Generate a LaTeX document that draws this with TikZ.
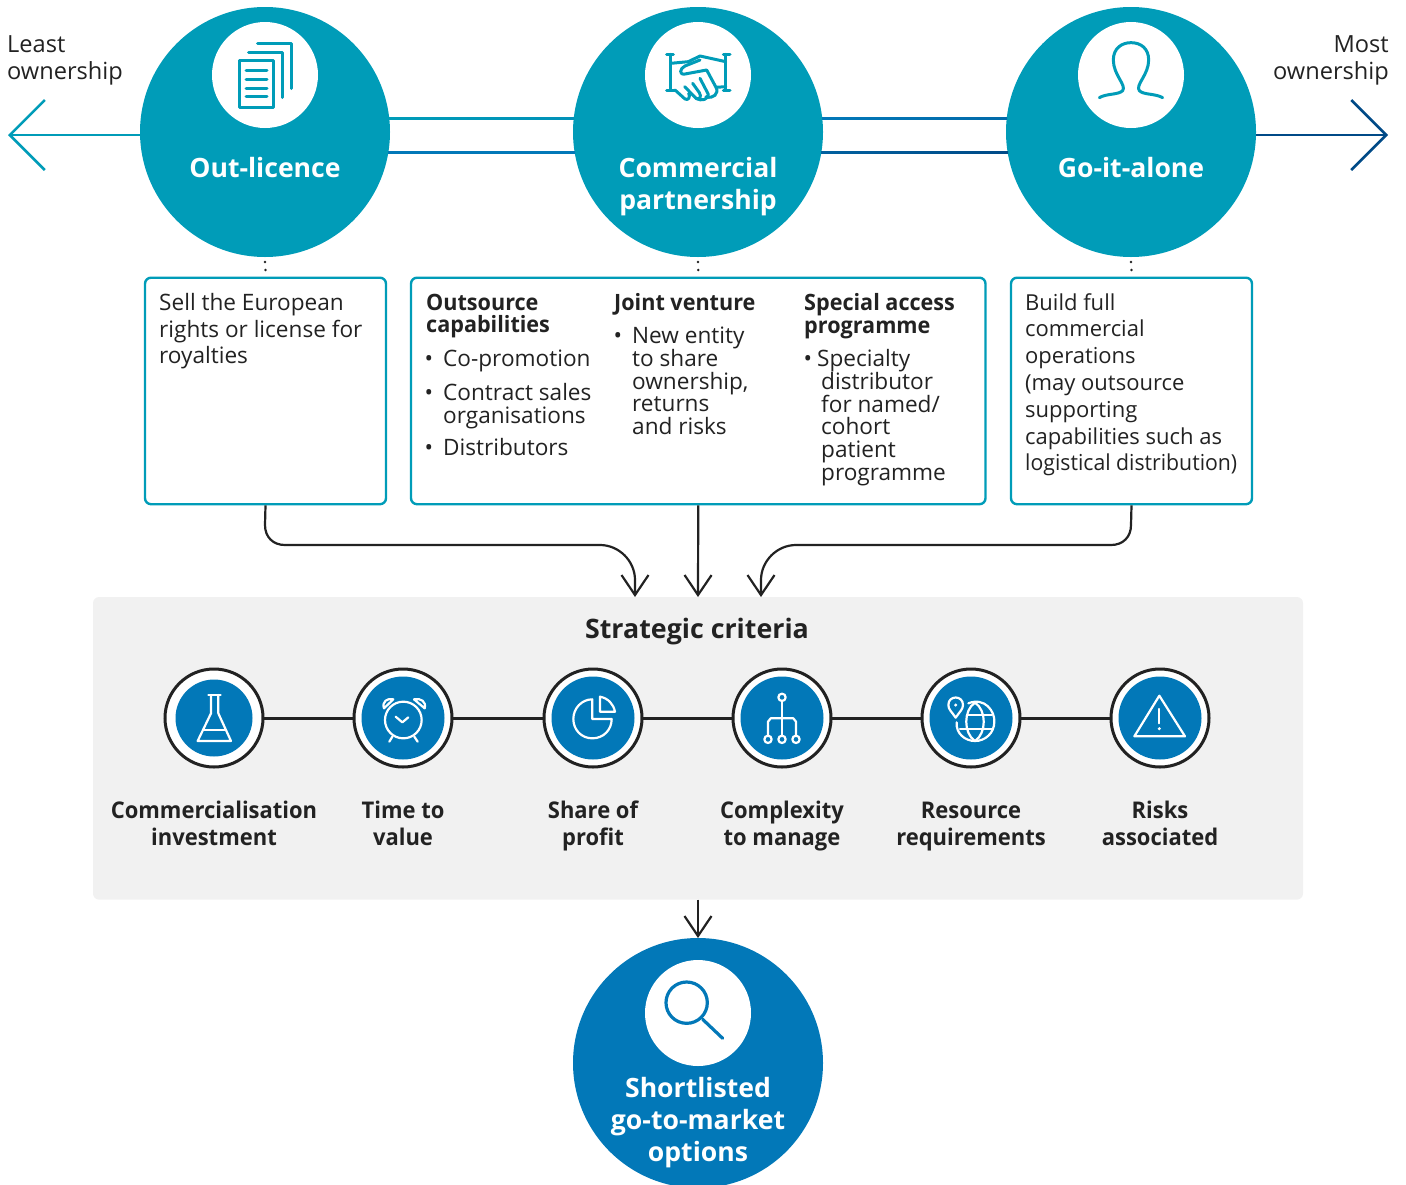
\documentclass[tikz,border=0pt]{standalone}
\usepackage{fontspec}
\setmainfont{Open Sans}
\newfontfamily\semi[FakeStretch=0.955]{Open Sans}
\newfontfamily\semih[FakeStretch=0.96]{Open Sans}
\usetikzlibrary{arrows.meta,calc}
\definecolor{teal}{HTML}{009CB8}
\definecolor{blu}{HTML}{0278B8}
\definecolor{navy}{HTML}{004A87}
\definecolor{ink}{HTML}{222222}
\definecolor{panel}{HTML}{F1F1F1}
\newcommand{\fs}[2]{\fontsize{#1}{#2}\selectfont}
\newcommand{\topst}{\rule{0pt}{20pt}}
\newcommand{\botst}{\rule[-6pt]{0pt}{6pt}}
\tikzset{
 x=1pt,y=-1pt,
 bigc/.style={circle,fill=#1,minimum size=250pt,inner sep=0pt,outer sep=0pt},
 whc/.style={circle,fill=white,minimum size=106pt,inner sep=0pt},
 bigt/.style={white,font=\bfseries\fs{26.6}{32},align=center,inner sep=0pt,anchor=center},
 infobox/.style={draw=teal,line width=2.4pt,rounded corners=6pt,fill=white,inner sep=0pt,anchor=north west},
 bodyt/.style={text=ink,font=\fs{22.6}{26.8},align=left,inner sep=0pt,anchor=north west},
 tight/.style={text=ink,font=\fs{22.6}{22.7},align=left,inner sep=0pt,anchor=north west},
 headt/.style={text=ink,font=\semih\bfseries\fs{22.5}{22.7},align=left,inner sep=0pt,anchor=north west},
 conn/.style={draw=ink,line width=2.2pt,-{Straight Barb[length=20pt,width=27pt,line width=2.2pt]}},
 dots/.style={draw=ink,line width=2.6pt,line cap=round,dash pattern=on 0pt off 8pt},
 critc/.style={circle,draw=ink,line width=3pt,fill=white,minimum size=98pt,inner sep=0pt,outer sep=0pt},
 critin/.style={circle,fill=blu,minimum size=#1,inner sep=0pt},
 critt/.style={text=ink,font=\semi\bfseries\fs{23}{27},align=center,inner sep=0pt},
 ictl/.style={draw=teal,line width=3pt,line cap=round,line join=round},
 icbl/.style={draw=blu,line width=3.2pt,line cap=round,line join=round},
 icw/.style={draw=white,line width=2.2pt,line cap=round,line join=round},
}
\begin{document}
\begin{tikzpicture}
\useasboundingbox (0,0) rectangle (1406,1184);
\clip (0,0) rectangle (1406,1184);
% panel
\node[fill=panel,rounded corners=6pt,minimum width=1210pt,minimum height=302.6pt,inner sep=0pt,outer sep=0pt] (crit) at (698,748.3) {};
% main circles
\node[bigc=teal] (ol) at (265,132) {};
\node[bigc=teal] (cp) at (698,132) {};
\node[bigc=teal] (ga) at (1131,132) {};
% horizontal connectors
\shade[left color=teal,right color=teal!70!blu] ($(ol.center)+(124,-15)$) rectangle ($(cp.center)+(-124,-12.4)$);
\shade[left color=blu,right color=blu] ($(ol.center)+(123,19)$) rectangle ($(cp.center)+(-123,21.6)$);
\shade[left color=blu,right color=blu!70!navy] ($(cp.center)+(124,-15)$) rectangle ($(ga.center)+(-124,-12.4)$);
\shade[left color=blu!50!navy,right color=navy] ($(cp.center)+(123,19)$) rectangle ($(ga.center)+(-123,21.6)$);
\node[whc] (olw) at (265,75) {};
\node[whc] (cpw) at (698,75) {};
\node[whc] (gaw) at (1131,75) {};
\node[bigt] (olt) at (265,167.5) {Out-licence};
\node[bigt] (cpt) at (698,187) {Commercial\\partnership};
\node[bigt] (gat) at (1131,167.5) {Go-it-alone};
% side arrows
\coordinate (lefttip) at (8,135);
\coordinate (righttip) at (1388,135);
\draw[draw=teal,line width=2.5pt,-{Straight Barb[length=35pt,width=70pt,line width=2.5pt]}] (ol.west |- lefttip) -- (lefttip);
\draw[draw=navy,line width=2.5pt,-{Straight Barb[length=35pt,width=70pt,line width=2.5pt]}] (ga.east |- righttip) -- (righttip);
\node[bodyt,font=\fs{23.6}{26.8}] (least) at (7,35.5) {Least\\ownership};
\node[bodyt,font=\fs{23.6}{26.8},align=right,anchor=north east] (most) at (1389,35.5) {Most\\ownership};
% boxes
\node[infobox,minimum width=241pt,minimum height=226.5pt] (b1) at (143.8,276.5) {};
\node[infobox,minimum width=574.5pt,minimum height=226.5pt] (b2) at (409.8,276.5) {};
\node[infobox,minimum width=241pt,minimum height=226.5pt] (b3) at (1009.8,276.5) {};
\draw[dots] ([yshift=-5]ol.south) -- ([yshift=6]b1.north);
\draw[dots] ([yshift=-5]cp.south) -- ([yshift=6]b2.north);
\draw[dots] ([yshift=-5]ga.south) -- ([yshift=6]b3.north);
% box texts
\node[bodyt] (t1) at (159,293) {Sell the European\\rights or license for\\royalties};
\node[bodyt,font=\fs{22}{26.8}] (t3) at (1025,293) {Build full\\commercial\\operations\\(may outsource\\supporting\\capabilities such as\\\scalebox{.965}[1]{logistical distribution)}};
\node[headt] (h1) at (426,293.5) {Outsource\\capabilities};
\node[tight] (i1) at (443,350) {\llap{•\hspace{10pt}}Co-promotion};
\node[tight] (i2) at (443,383) {\llap{•\hspace{10pt}}Contract sales\\organisations};
\node[tight] (i3) at (443,438) {\llap{•\hspace{10pt}}Distributors};
\node[headt] (h2) at (614,293.5) {Joint venture};
\node[tight] (i4) at (632,327) {\llap{•\hspace{10pt}}New entity\\to share\\ownership,\\returns\\and risks};
\node[headt] (h3) at (804,293.5) {Special access\\programme};
\node[tight] (i5) at (821,349.5) {\hspace*{-4pt}\llap{•\hspace{5pt}}Specialty\\distributor\\for named/\\cohort\\patient\\programme};
% connectors into panel
\draw[conn] (b1.south) -- (265,525) .. controls (265,537) and (273,545) .. (285,545) -- (600,545) .. controls (619,545) and (635,561) .. (635,580) -- ([xshift=-63]crit.north);
\draw[conn] (b2.south) -- (crit.north);
\draw[conn] (b3.south) -- (1131,525) .. controls (1131,537) and (1123,545) .. (1111,545) -- (796,545) .. controls (777,545) and (761,561) .. (761,580) -- ([xshift=63]crit.north);
\node[font=\bfseries\fs{26.8}{32},text=ink,inner sep=0pt] (sc) at (697,631.5) {Strategic criteria};
% criteria
\foreach \n/\px in {a/214,b/403,c/593,d/782,e/971,f/1160} {\node[critc] (\n) at (\px,718) {};}
\draw[ink,line width=3pt] (a) -- (b);
\draw[ink,line width=3pt] (b) -- (c);
\draw[ink,line width=3pt] (c) -- (d);
\draw[ink,line width=3pt] (d) -- (e);
\draw[ink,line width=3pt] (e) -- (f);
\node[critin=77pt] (ai) at (a) {};
\foreach \n in {b,c,d,e,f} {\node[critin=83pt] (\n i) at (\n) {};}
\node[critt] (at) at (214,825) {\topst Commercialisation\\investment\botst};
\node[critt] (bt) at (403,825) {\topst Time to\\value\botst};
\node[critt] (ct) at (593,825) {\topst Share of\\profit\botst};
\node[critt] (dt) at (782,825) {\topst Complexity\\to manage\botst};
\node[critt] (et) at (971,825) {\topst Resource\\requirements\botst};
\node[critt] (ft) at (1160,825) {\topst Risks\\associated\botst};
% result
\node[bigc=blu] (res) at (698,1063) {};
\node[whc] (resw) at (698,1013) {};
\node[bigt] (rest) at (698,1123) {Shortlisted\\go-to-market\\options};
\draw[conn] (crit.south) -- (res.north);
% ---- icons
% documents
\begin{scope}[ictl]
\draw (239,60) rectangle (273,107);
\foreach \yy in {70.3,79,88,96.7} \draw (246,\yy) -- (267,\yy);
\draw (248.5,52) -- (282,52) -- (282,97.5);
\draw (257.5,43) -- (291,43) -- (291,88.5);
\end{scope}
% handshake
\begin{scope}[shift={(560,0)},xscale=1/3,yscale=1/3]
\draw[ictl] (320,163) -- (340,163) (332,163) -- (332,270) (320,270) -- (345,270);
\draw[ictl] (490,163) -- (510,163) (497,163) -- (497,270) (490,270) -- (510,270);
\draw[ictl] (332,190) -- (385,185) -- (420,168) -- (497,185);
\draw[ictl] (345,270) -- (375,297) .. controls (385,303) and (392,290) .. (386,280);
\draw[ictl] (374,260) -- (408,295) .. controls (418,302) and (426,290) .. (418,278) -- (398,250);
\draw[ictl] (408,295) .. controls (425,305) and (445,298) .. (445,283) -- (420,235);
\draw[ictl] (438,290) .. controls (460,298) and (478,280) .. (468,262) -- (440,210) -- (375,222) .. controls (355,225) and (360,205) .. (375,198) -- (420,180);
\draw[ictl] (468,262) -- (497,260);
\end{scope}
% person
\begin{scope}[shift={(990,0)},xscale=1/3,yscale=1/3]
\draw[ictl] (328,293) .. controls (350,280) and (385,285) .. (398,272) .. controls (410,255) and (370,225) .. (370,180) .. controls (370,145) and (395,128) .. (423,128) .. controls (452,128) and (476,145) .. (476,180) .. controls (476,225) and (435,255) .. (448,272) .. controls (460,285) and (495,280) .. (518,293);
\end{scope}
% flask
\begin{scope}[shift={(150,660)},xscale=1/3,yscale=1/3]
\draw[icw] (175,105) -- (212,105);
\draw[icw] (183,105) -- (183,160) -- (143,243) -- (243,243) -- (205,160) -- (205,105);
\draw[icw] (163,210) -- (225,210);
\end{scope}
% clock
\begin{scope}[shift={(150,660)},xscale=1/3,yscale=1/3]
\draw[icw] (760,180) circle[radius=55pt];
\draw[icw] (737,170) -- (757,187) -- (775,172);
\draw[icw] (727,230) -- (718,245) (793,230) -- (803,245);
\draw[icw] (702,145) .. controls (695,125) and (712,113) .. (730,118) -- cycle;
\draw[icw] (824,145) .. controls (830,125) and (812,113) .. (792,118) -- cycle;
\end{scope}
% pie
\begin{scope}[shift={(530,660)},xscale=1/3,yscale=1/3]
\draw[icw] (187,118) .. controls (155,118) and (130,145) .. (130,177) .. controls (130,210) and (155,235) .. (187,235) .. controls (220,235) and (245,210) .. (245,177) -- (187,177) -- cycle;
\draw[icw] (210,110) -- (210,155) -- (255,155) .. controls (250,132) and (235,115) .. (210,110) -- cycle;
\end{scope}
% network
\begin{scope}[shift={(530,660)},xscale=1/3,yscale=1/3]
\draw[icw] (756,112) circle[radius=11pt];
\draw[icw] (756,122) -- (756,228);
\draw[icw] (714,228) -- (714,185) -- (722,175) -- (790,175) -- (798,185) -- (798,228);
\draw[icw] (714,238) circle[radius=11pt];
\draw[icw] (756,238) circle[radius=11pt];
\draw[icw] (798,238) circle[radius=11pt];
\end{scope}
% globe
\begin{scope}[shift={(900,660)},xscale=1/3,yscale=1/3]
\draw[icw] (205,130) .. controls (255,110) and (285,155) .. (283,185) .. controls (283,220) and (255,243) .. (225,243) .. controls (195,243) and (167,220) .. (170,187);
\draw[icw] (225,128) .. controls (190,150) and (190,220) .. (225,243);
\draw[icw] (225,128) .. controls (260,150) and (260,220) .. (225,243);
\draw[icw] (205,165) -- (275,165) (180,207) -- (275,207);
\draw[icw] (167,173) .. controls (155,155) and (145,148) .. (145,135) .. controls (145,105) and (189,105) .. (189,135) .. controls (189,148) and (179,155) .. (167,173) -- cycle;
\fill[white] (167,135) circle[radius=5pt];
\end{scope}
% triangle
\begin{scope}[shift={(900,660)},xscale=1/3,yscale=1/3]
\draw[icw] (778,107) -- (855,229) -- (703,229) -- cycle;
\draw[icw] (778,147) -- (778,190);
\fill[white] (778,206) circle[radius=5pt];
\end{scope}
% magnifier
\begin{scope}[shift={(560,890)},xscale=1/3,yscale=1/3]
\draw[icbl] (380,338) circle[radius=62pt];
\draw[icbl] (428,388) -- (488,445);
\end{scope}
\end{tikzpicture}
\end{document}
